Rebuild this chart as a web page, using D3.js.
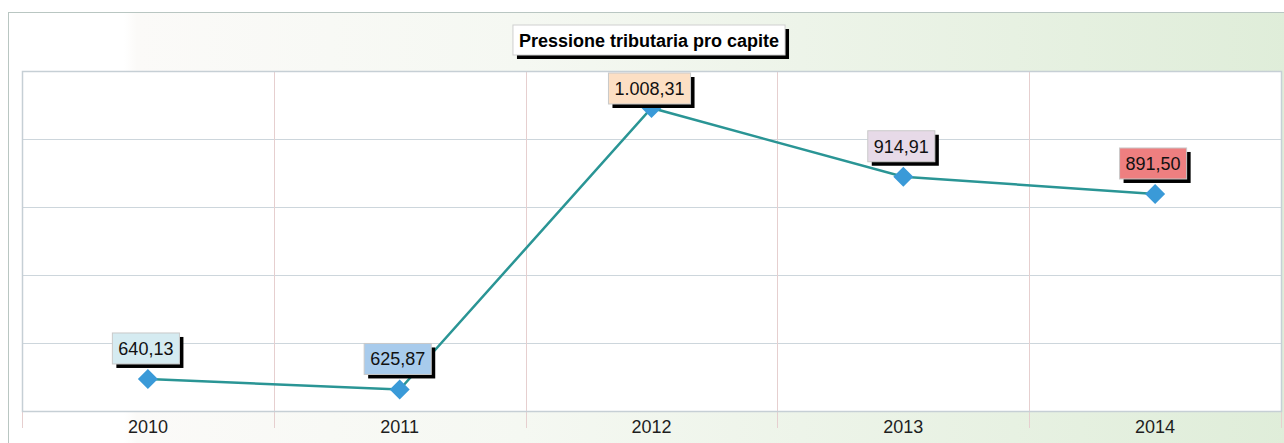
<!DOCTYPE html>
<html>
<head>
<meta charset="utf-8">
<script src="https://cdn.jsdelivr.net/npm/d3@7"></script>
<style>
  html, body { margin: 0; padding: 0; background: #fff; }
  svg { display: block; font-family: Arial, "Liberation Sans", sans-serif; }
</style>
</head>
<body>
<div id="chart"></div>
<script>
// data
var years = ['2010', '2011', '2012', '2013', '2014'];
var values = [640.13, 625.87, 1008.31, 914.91, 891.50];
var labelFills = ['#d5ebf1', '#a8cbec', '#fcdfc4', '#e7dae8', '#ee7f80'];
var title = 'Pressione tributaria pro capite';

var W = 1284, H = 443;
var plot = {left: 22, top: 71, right: 1281, bottom: 411};

var svg = d3.select('#chart')
    .append('svg')
    .attr('width', W)
    .attr('height', H);

var defs = svg.append('defs');
var grad = defs.append('linearGradient')
    .attr('id', 'bg')
    .attr('x1', 0).attr('x2', 1).attr('y1', 0).attr('y2', 0);
grad.append('stop').attr('offset', '0%').attr('stop-color', '#ffffff');
grad.append('stop').attr('offset', '9%').attr('stop-color', '#ffffff');
grad.append('stop').attr('offset', '10%').attr('stop-color', '#fbfaf8');
grad.append('stop').attr('offset', '40%').attr('stop-color', '#f5f8f2');
grad.append('stop').attr('offset', '100%').attr('stop-color', '#dfedd9');

// outer frame
svg.append('rect')
    .attr('x', 8.5)
    .attr('y', 12.5)
    .attr('width', W)
    .attr('height', H)
    .style('fill', 'url(#bg)')
    .style('stroke', '#b9c6c2')
    .style('stroke-width', 1);

var x = d3.scaleBand()
    .domain(years)
    .range([plot.left, plot.right]);

var y = d3.scaleLinear()
    .domain([596.6, 1058.6])
    .range([plot.bottom, plot.top]);

var yTicks = d3.range(6).map(function(i) {
    return y.domain()[0] + i * (y.domain()[1] - y.domain()[0]) / 5;
});

// plot area
svg.append('rect')
    .attr('x', plot.left)
    .attr('y', plot.top)
    .attr('width', plot.right - plot.left)
    .attr('height', plot.bottom - plot.top)
    .style('fill', '#ffffff');

// horizontal grid
svg.append('g')
    .selectAll('line')
    .data(yTicks)
    .enter()
    .append('line')
    .attr('x1', plot.left)
    .attr('x2', plot.right)
    .attr('y1', function(d) { return Math.round(y(d)) + 0.5; })
    .attr('y2', function(d) { return Math.round(y(d)) + 0.5; })
    .style('stroke', '#cdd6dc')
    .style('stroke-width', 1);

// vertical grid + ticks below
var edges = years.map(function(d) { return x(d); }).concat([plot.right]);
svg.append('g')
    .selectAll('line')
    .data(edges)
    .enter()
    .append('line')
    .attr('x1', function(d) { return Math.round(d) + 0.5; })
    .attr('x2', function(d) { return Math.round(d) + 0.5; })
    .attr('y1', plot.top)
    .attr('y2', plot.bottom + 17)
    .style('stroke', '#e6cfcf')
    .style('stroke-width', 1);

// plot border
svg.append('rect')
    .attr('x', plot.left + 0.5)
    .attr('y', plot.top + 0.5)
    .attr('width', plot.right - plot.left)
    .attr('height', plot.bottom - plot.top)
    .style('fill', 'none')
    .style('stroke', '#c6cfd5')
    .style('stroke-width', 1.5);

// x labels
svg.append('g')
    .selectAll('text')
    .data(years)
    .enter()
    .append('text')
    .attr('x', function(d) { return x(d) + x.bandwidth() / 2; })
    .attr('y', 433)
    .attr('text-anchor', 'middle')
    .style('font-size', '18px')
    .style('fill', '#1e1e1e')
    .text(function(d) { return d; });

// line
var pts = years.map(function(d, i) {
    return {year: d, value: values[i], fill: labelFills[i]};
});

var line = d3.line()
    .x(function(d) { return x(d.year) + x.bandwidth() / 2; })
    .y(function(d) { return y(d.value); });

svg.append('path')
    .datum(pts)
    .attr('d', line)
    .style('fill', 'none')
    .style('stroke', '#2a9595')
    .style('stroke-width', 2.5);

// markers
svg.append('g')
    .selectAll('path')
    .data(pts)
    .enter()
    .append('path')
    .attr('transform', function(d) {
        return 'translate(' + (x(d.year) + x.bandwidth() / 2) + ',' + y(d.value) + ')';
    })
    .attr('d', 'M0,-10L10,0L0,10L-10,0Z')
    .style('fill', '#3a9ad8');

// value labels
var fmt = d3.formatLocale({decimal: ',', thousands: '.', grouping: [3], currency: ['', '']}).format(',.2f');

var labels = svg.append('g')
    .selectAll('g')
    .data(pts)
    .enter()
    .append('g');

labels.each(function(d) {
    var g = d3.select(this);
    var cx = x(d.year) + x.bandwidth() / 2 - 2;
    var txt = g.append('text')
        .attr('text-anchor', 'middle')
        .style('font-size', '18px')
        .style('fill', '#111')
        .text(fmt(d.value));
    var w = txt.node().getComputedTextLength() + 12;
    var h = 31;
    var bottom = y(d.value) - 15;
    var top = Math.max(bottom - h, plot.top + 2);
    g.insert('rect', 'text')
        .attr('x', cx - w / 2 + 4)
        .attr('y', top + 4)
        .attr('width', w)
        .attr('height', h)
        .style('fill', '#000');
    g.insert('rect', 'text')
        .attr('x', cx - w / 2)
        .attr('y', top)
        .attr('width', w)
        .attr('height', h)
        .style('fill', d.fill)
        .style('stroke', '#c9c9c9')
        .style('stroke-width', 1);
    txt.attr('x', cx).attr('y', top + h / 2 + 6.5);
});

// title
var tg = svg.append('g');
var tt = tg.append('text')
    .attr('x', 649)
    .attr('y', 46.5)
    .attr('text-anchor', 'middle')
    .style('font-size', '18px')
    .style('font-weight', 'bold')
    .style('fill', '#000')
    .text(title);
var tw = tt.node().getComputedTextLength() + 12;
tg.insert('rect', 'text')
    .attr('x', 649 - tw / 2 + 4)
    .attr('y', 29)
    .attr('width', tw)
    .attr('height', 30)
    .style('fill', '#000');
tg.insert('rect', 'text')
    .attr('x', 649 - tw / 2)
    .attr('y', 25)
    .attr('width', tw)
    .attr('height', 30)
    .style('fill', '#fff')
    .style('stroke', '#cfcfcf')
    .style('stroke-width', 1);
</script>
</body>
</html>
